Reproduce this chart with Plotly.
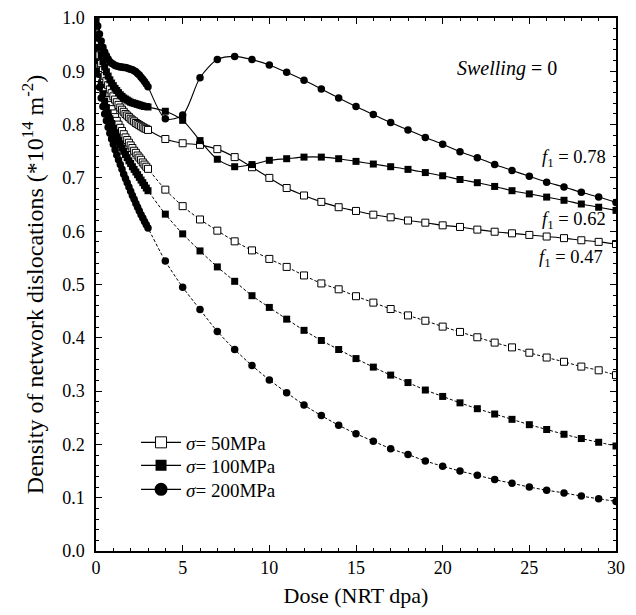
import plotly.graph_objects as go

# ---- data ----
dose_fine = [0.0, 0.1, 0.2, 0.3, 0.4, 0.5, 0.6, 0.7, 0.8, 0.9, 1.0,
             1.1, 1.2, 1.3, 1.4, 1.5, 1.6, 1.7, 1.8, 1.9, 2.0,
             2.1, 2.2, 2.3, 2.4, 2.5, 2.6, 2.7, 2.8, 2.9, 3.0]
dose_coarse = [4, 5, 6, 7, 8, 9, 10, 11, 12, 13, 14, 15, 16, 17, 18, 19, 20,
               21, 22, 23, 24, 25, 26, 27, 28, 29, 30]

# solid curves (with swelling factor f1)
c_solid_fine = [1.000, 0.985, 0.970, 0.957, 0.945, 0.936, 0.929, 0.923, 0.918, 0.915, 0.913,
                0.911, 0.910, 0.909, 0.908, 0.908, 0.907, 0.907, 0.906, 0.905, 0.904,
                0.903, 0.901, 0.899, 0.896, 0.893, 0.889, 0.885, 0.881, 0.876, 0.871]
c_solid_coarse = [0.811, 0.818, 0.888, 0.922, 0.928, 0.922, 0.912, 0.898, 0.883, 0.867, 0.850,
                  0.834, 0.819, 0.804, 0.790, 0.776, 0.763, 0.749, 0.738, 0.725, 0.714,
                  0.703, 0.692, 0.683, 0.673, 0.664, 0.654]

s_solid_fine = [0.990, 0.965, 0.945, 0.930, 0.918, 0.908, 0.899, 0.891, 0.884, 0.878, 0.873,
                0.868, 0.864, 0.860, 0.856, 0.853, 0.850, 0.848, 0.846, 0.844, 0.842,
                0.841, 0.840, 0.839, 0.838, 0.837, 0.836, 0.835, 0.834, 0.834, 0.833]
s_solid_coarse = [0.825, 0.808, 0.770, 0.735, 0.721, 0.725, 0.733, 0.736, 0.739, 0.739, 0.736,
                  0.731, 0.726, 0.721, 0.716, 0.710, 0.704, 0.697, 0.691, 0.684, 0.676,
                  0.670, 0.664, 0.658, 0.651, 0.645, 0.639]

o_solid_fine = [0.980, 0.950, 0.930, 0.915, 0.902, 0.891, 0.882, 0.874, 0.866, 0.859, 0.853,
                0.847, 0.842, 0.837, 0.832, 0.828, 0.824, 0.820, 0.817, 0.814, 0.811,
                0.808, 0.806, 0.803, 0.801, 0.799, 0.797, 0.795, 0.793, 0.792, 0.790]
o_solid_coarse = [0.773, 0.765, 0.762, 0.754, 0.739, 0.720, 0.700, 0.681, 0.667, 0.655, 0.645,
                  0.638, 0.631, 0.626, 0.620, 0.616, 0.611, 0.608, 0.603, 0.599, 0.596,
                  0.593, 0.590, 0.587, 0.583, 0.580, 0.576]

# dashed curves
o_dash_fine = [0.970, 0.935, 0.912, 0.895, 0.880, 0.867, 0.856, 0.846, 0.837, 0.829, 0.821,
               0.814, 0.807, 0.800, 0.794, 0.788, 0.782, 0.776, 0.771, 0.766, 0.761,
               0.756, 0.751, 0.747, 0.742, 0.738, 0.734, 0.729, 0.725, 0.721, 0.717]
o_dash_coarse = [0.678, 0.647, 0.622, 0.601, 0.581, 0.564, 0.548, 0.533, 0.517, 0.502, 0.491,
                 0.478, 0.466, 0.454, 0.442, 0.432, 0.421, 0.411, 0.401, 0.391, 0.382,
                 0.372, 0.363, 0.355, 0.346, 0.339, 0.330]

s_dash_fine = [0.960, 0.920, 0.895, 0.875, 0.858, 0.844, 0.832, 0.821, 0.811, 0.802, 0.793,
               0.785, 0.777, 0.770, 0.763, 0.756, 0.750, 0.744, 0.738, 0.732, 0.727,
               0.721, 0.716, 0.711, 0.706, 0.701, 0.696, 0.691, 0.686, 0.681, 0.676]
s_dash_coarse = [0.632, 0.595, 0.563, 0.533, 0.506, 0.479, 0.457, 0.435, 0.414, 0.395, 0.378,
                 0.361, 0.345, 0.330, 0.316, 0.302, 0.290, 0.278, 0.267, 0.257, 0.247,
                 0.237, 0.228, 0.219, 0.211, 0.204, 0.197]

c_dash_fine = [0.950, 0.900, 0.870, 0.850, 0.834, 0.820, 0.807, 0.795, 0.784, 0.773, 0.763,
               0.753, 0.743, 0.734, 0.725, 0.716, 0.707, 0.699, 0.691, 0.683, 0.675,
               0.667, 0.660, 0.652, 0.645, 0.638, 0.631, 0.625, 0.618, 0.612, 0.606]
c_dash_coarse = [0.544, 0.495, 0.453, 0.412, 0.378, 0.348, 0.321, 0.297, 0.274, 0.254, 0.236,
                 0.220, 0.206, 0.192, 0.181, 0.169, 0.159, 0.150, 0.142, 0.134, 0.127,
                 0.120, 0.114, 0.109, 0.103, 0.098, 0.093]

legend_labels = ["<i>σ</i>= 50MPa", "<i>σ</i>= 100MPa", "<i>σ</i>= 200MPa"]
f1_labels = ["0.78", "0.62", "0.47"]

x_ticks = [0, 5, 10, 15, 20, 25, 30]
y_ticks = [0.0, 0.1, 0.2, 0.3, 0.4, 0.5, 0.6, 0.7, 0.8, 0.9, 1.0]

# ---- figure ----
FONT = "Liberation Serif"
x_all = dose_fine + dose_coarse

fig = go.Figure()

series = [
    (o_dash_fine + o_dash_coarse, "open", "dash"),
    (s_dash_fine + s_dash_coarse, "sq", "dash"),
    (c_dash_fine + c_dash_coarse, "circ", "dash"),
    (o_solid_fine + o_solid_coarse, "open", "solid"),
    (s_solid_fine + s_solid_coarse, "sq", "solid"),
    (c_solid_fine + c_solid_coarse, "circ", "solid"),
]
marker_styles = {
    "open": dict(symbol="square", size=7, color="white", line=dict(width=1, color="black")),
    "sq": dict(symbol="square", size=7, color="black"),
    "circ": dict(symbol="circle", size=7.5, color="black"),
}

for yv, sty, dash in series:
    fig.add_trace(go.Scatter(
        x=x_all, y=yv, mode="lines+markers",
        line=dict(color="black", width=1.1 if dash == "solid" else 1.0,
                  dash="solid" if dash == "solid" else "3px,2px",
                  shape="spline", smoothing=0.8),
        marker=marker_styles[sty], showlegend=False, hoverinfo="skip"))

# legend-only traces, each in its own legend box for exact spacing
leg_markers = [
    dict(symbol="square", size=11, color="white", line=dict(width=1, color="black")),
    dict(symbol="square", size=11, color="black"),
    dict(symbol="circle", size=13, color="black"),
]
leg_names = ["legend", "legend2", "legend3"]
leg_y = [0.2036, 0.1604, 0.1154]
for lab, mk, ln in zip(legend_labels, leg_markers, leg_names):
    fig.add_trace(go.Scatter(x=[None], y=[None], mode="lines+markers", name=lab,
                             legend=ln,
                             line=dict(color="black", width=1.1), marker=mk))

annotations = [
    dict(x=0.791, y=0.905, xanchor="center", text="<i>Swelling</i> = 0", size=20),
    dict(x=0.985, y=0.737, xanchor="right", text="<i>f</i><sub>1</sub> = " + f1_labels[0], size=18.5),
    dict(x=0.985, y=0.620, xanchor="right", text="<i>f</i><sub>1</sub> = " + f1_labels[1], size=18.5),
    dict(x=0.979, y=0.549, xanchor="right", text="<i>f</i><sub>1</sub> = " + f1_labels[2], size=18.5),
]
for a in annotations:
    fig.add_annotation(xref="paper", yref="paper", showarrow=False,
                       xanchor=a["xanchor"], yanchor="middle",
                       font=dict(family=FONT, color="black", size=a["size"]),
                       x=a["x"], y=a["y"], text=a["text"])

axis_common = dict(
    showgrid=False, zeroline=False, showline=True, linecolor="black", linewidth=1.5,
    mirror="allticks", ticks="inside", ticklen=6, tickwidth=1, tickcolor="black",
    tickfont=dict(family=FONT, size=18, color="black"),
)

fig.update_xaxes(range=[0, 30], tickvals=x_ticks, ticktext=[str(v) for v in x_ticks],
                 minor=dict(dtick=1, ticks="inside", ticklen=3, tickcolor="black", tickwidth=1),
                 title=dict(text="Dose (NRT dpa)", font=dict(family=FONT, size=22, color="black"),
                            standoff=10),
                 **axis_common)
fig.update_yaxes(range=[0, 1.0], tickvals=y_ticks, ticktext=[f"{v:.1f}" for v in y_ticks],
                 minor=dict(dtick=0.02, ticks="inside", ticklen=3, tickcolor="black", tickwidth=1),
                 title=dict(text="Density of network dislocations (*10<sup>14</sup> m<sup>-2</sup>)",
                            font=dict(family=FONT, size=24, color="black"), standoff=12),
                 ticklabelstandoff=6,
                 **axis_common)

leg_common = dict(x=0.077, xanchor="left", yanchor="middle",
                  bgcolor="rgba(0,0,0,0)", borderwidth=0,
                  font=dict(family=FONT, size=19, color="black"),
                  itemwidth=40)

fig.update_layout(
    width=636, height=615,
    margin=dict(l=96, r=20, t=18, b=64, autoexpand=False),
    paper_bgcolor="white", plot_bgcolor="white",
    font=dict(family=FONT, color="black"),
    showlegend=True,
    legend=dict(y=leg_y[0], **leg_common),
    legend2=dict(y=leg_y[1], **leg_common),
    legend3=dict(y=leg_y[2], **leg_common),
)

fig.write_html("out.html")
